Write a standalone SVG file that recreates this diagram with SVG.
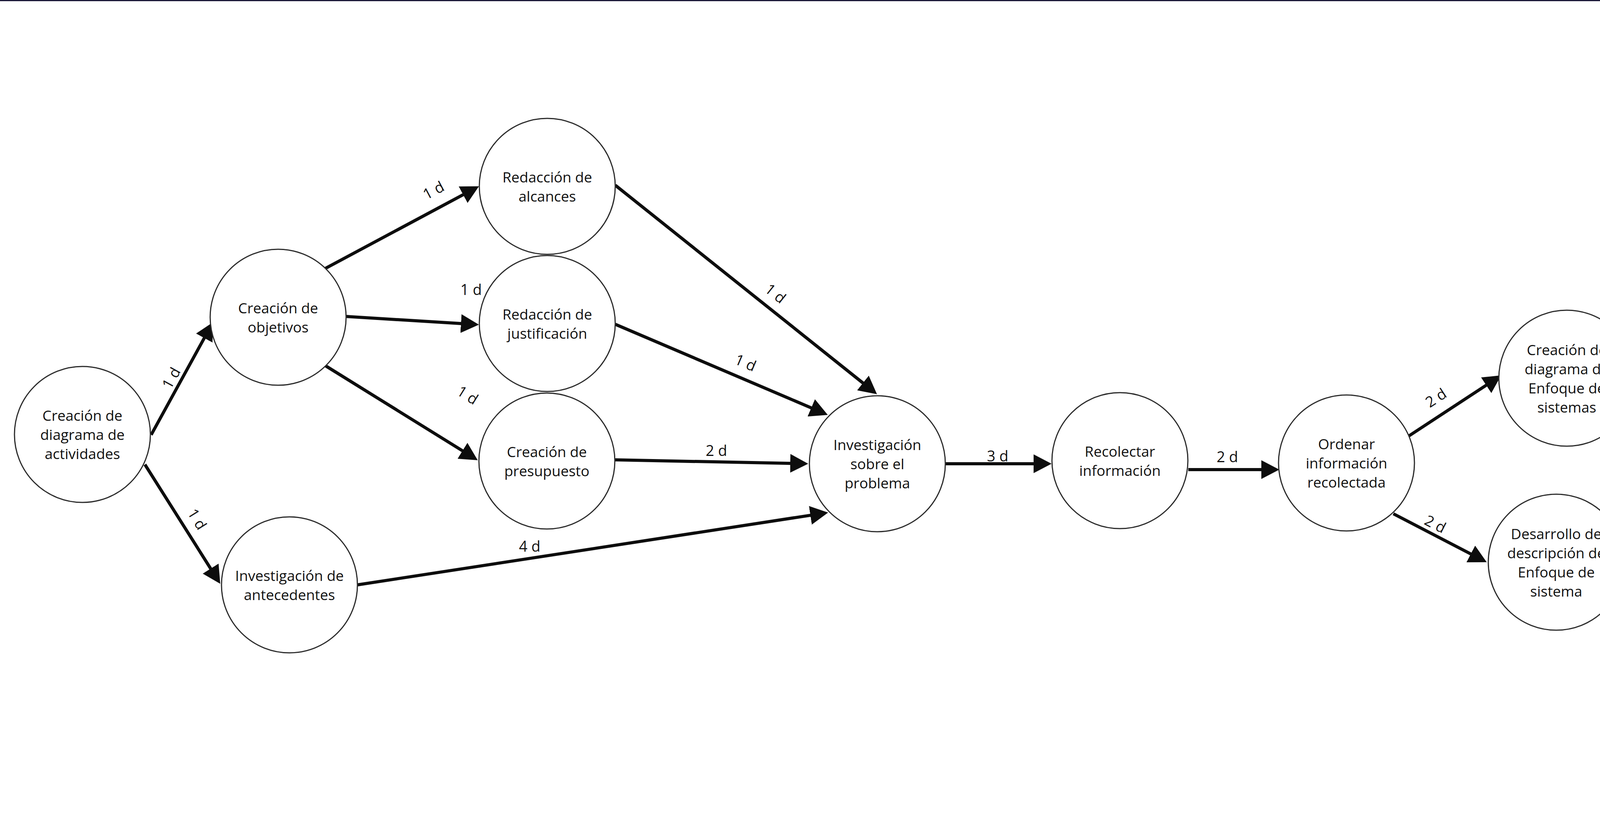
<svg xmlns="http://www.w3.org/2000/svg" width="7680" height="2104" viewBox="0 0 7680 2104">
<style>
.node circle{fill:#ffffff;stroke:#2b2b2b;stroke-width:3}
.node text{font-family:"Open Sans","DejaVu Sans",sans-serif;font-size:37px;fill:#111111;text-anchor:middle}
.edges line{stroke:#0d0d0d;stroke-width:8;marker-end:url(#arrow)}
.lbl{font-family:"Open Sans","DejaVu Sans",sans-serif;font-size:38px;fill:#111111;text-anchor:middle;dominant-baseline:central}
</style>
<defs>
<marker id="arrow" markerUnits="userSpaceOnUse" markerWidth="46" markerHeight="48" viewBox="0 0 46 48" refX="22" refY="24" orient="auto">
<path d="M0,0 L46,24 L0,48 z" fill="#0d0d0d"/>
</marker>
</defs>
<rect x="0" y="0" width="7680" height="2104" fill="#ffffff"/>
<rect x="0" y="0" width="7680" height="3" fill="#1b1838"/>
<rect x="7648" y="0" width="32" height="2104" fill="#1e2231"/>

<g id="connectors" class="edges">
<line x1="387" y1="1113" x2="533.5" y2="846"/>
<line x1="371" y1="1189" x2="551" y2="1474"/>
<line x1="833" y1="687" x2="1205" y2="488"/>
<line x1="886" y1="810" x2="1202" y2="829.5"/>
<line x1="833" y1="936" x2="1202.6" y2="1165.4"/>
<line x1="915" y1="1497" x2="2096.3" y2="1315.6"/>
<line x1="1575" y1="474" x2="2226.3" y2="994"/>
<line x1="1575" y1="830" x2="2097" y2="1052.6"/>
<line x1="1575" y1="1177" x2="2045" y2="1186.5"/>
<line x1="2420" y1="1187" x2="2668" y2="1187"/>
<line x1="3042" y1="1202" x2="3251" y2="1202"/>
<line x1="3605" y1="1117" x2="3823" y2="974"/>
<line x1="3567" y1="1315" x2="3784.7" y2="1428"/>
<line x1="4188" y1="967" x2="4341" y2="1086"/>
<line x1="4166" y1="1449" x2="4336" y2="1366.5"/>
<line x1="4662" y1="1231" x2="4850" y2="1231"/>
<line x1="5223" y1="1224" x2="5416" y2="1224"/>
<line x1="5787" y1="1229" x2="5977" y2="1229"/>
<line x1="6351" y1="1224" x2="6538" y2="1224"/>
<line x1="6737" y1="1390" x2="6737" y2="1581"/>
<line x1="6913" y1="1785" x2="7105" y2="1785"/>
<text class="lbl" transform="translate(437,967) rotate(-61)">1 d</text>
<text class="lbl" transform="translate(506,1328) rotate(58)">1 d</text>
<text class="lbl" transform="translate(1109,486) rotate(-28)">1 d</text>
<text class="lbl" x="1206" y="740">1 d</text>
<text class="lbl" transform="translate(1198,1010) rotate(32)">1 d</text>
<text class="lbl" x="1356" y="1397">4 d</text>
<text class="lbl" transform="translate(1986,750) rotate(38.6)">1 d</text>
<text class="lbl" transform="translate(1909,927) rotate(23)">1 d</text>
<text class="lbl" x="1834" y="1152">2 d</text>
<text class="lbl" x="2554" y="1166">3 d</text>
<text class="lbl" x="3142" y="1168">2 d</text>
<text class="lbl" transform="translate(3675,1017) rotate(-33)">2 d</text>
<text class="lbl" transform="translate(3675,1340) rotate(27)">2 d</text>
<text class="lbl" transform="translate(4277,977) rotate(38)">1 d</text>
<text class="lbl" transform="translate(4236,1376) rotate(-26)">1 d</text>
<text class="lbl" x="4757" y="1195">3 d</text>
<text class="lbl" x="5315" y="1195">0 d</text>
<text class="lbl" x="5877" y="1202">1 d</text>
<text class="lbl" x="6436" y="1196">1 d</text>
<text class="lbl" transform="translate(6764,1478) rotate(90)">1 d</text>
<text class="lbl" x="6995" y="1758">1 d</text>
</g>

<g id="n1" class="node"><circle cx="211" cy="1112" r="174"/><text x="211"><tspan x="211" y="1077">Creación de</tspan><tspan x="211" y="1126">diagrama de</tspan><tspan x="211" y="1175">actividades</tspan></text></g>
<g id="n2" class="node"><circle cx="712" cy="812" r="174"/><text x="712"><tspan x="712" y="801.5">Creación de</tspan><tspan x="712" y="850.5">objetivos</tspan></text></g>
<g id="n3" class="node"><circle cx="741" cy="1497" r="174"/><text x="741"><tspan x="741" y="1486.5">Investigación de</tspan><tspan x="741" y="1535.5">antecedentes</tspan></text></g>
<g id="n4" class="node"><circle cx="1401" cy="477" r="174"/><text x="1401"><tspan x="1401" y="466.5">Redacción de</tspan><tspan x="1401" y="515.5">alcances</tspan></text></g>
<g id="n5" class="node"><circle cx="1401" cy="828" r="174"/><text x="1401"><tspan x="1401" y="817.5">Redacción de</tspan><tspan x="1401" y="866.5">justificación</tspan></text></g>
<g id="n6" class="node"><circle cx="1400" cy="1180" r="174"/><text x="1400"><tspan x="1400" y="1169.5">Creación de</tspan><tspan x="1400" y="1218.5">presupuesto</tspan></text></g>
<g id="n7" class="node"><circle cx="2246" cy="1187" r="174"/><text x="2246"><tspan x="2246" y="1152">Investigación</tspan><tspan x="2246" y="1201">sobre el</tspan><tspan x="2246" y="1250">problema</tspan></text></g>
<g id="n8" class="node"><circle cx="2867" cy="1179" r="174"/><text x="2867"><tspan x="2867" y="1168.5">Recolectar</tspan><tspan x="2867" y="1217.5">información</tspan></text></g>
<g id="n9" class="node"><circle cx="3447" cy="1185" r="174"/><text x="3447"><tspan x="3447" y="1150">Ordenar</tspan><tspan x="3447" y="1199">información</tspan><tspan x="3447" y="1248">recolectada</tspan></text></g>
<g id="n10" class="node"><circle cx="4011" cy="968" r="174"/><text x="4011"><tspan x="4011" y="908.5">Creación de</tspan><tspan x="4011" y="957.5">diagrama de</tspan><tspan x="4011" y="1006.5">Enfoque de</tspan><tspan x="4011" y="1055.5">sistemas</tspan></text></g>
<g id="n11" class="node"><circle cx="3984" cy="1439" r="174"/><text x="3984"><tspan x="3984" y="1379.5">Desarrollo de</tspan><tspan x="3984" y="1428.5">descripción de</tspan><tspan x="3984" y="1477.5">Enfoque de</tspan><tspan x="3984" y="1526.5">sistema</tspan></text></g>
<g id="n12" class="node"><circle cx="4487" cy="1229" r="174"/><text x="4487"><tspan x="4487" y="1194">Documentación</tspan><tspan x="4487" y="1243">del proceso de</tspan><tspan x="4487" y="1292">análisis</tspan></text></g>
<g id="n13" class="node"><circle cx="5050" cy="1229" r="174"/><text x="5050"><tspan x="5050" y="1194">Documentación</tspan><tspan x="5050" y="1243">de la generación</tspan><tspan x="5050" y="1292">de alternativas</tspan></text></g>
<g id="n14" class="node"><circle cx="5612" cy="1229" r="174"/><text x="5612"><tspan x="5612" y="1194">Selección de</tspan><tspan x="5612" y="1243">alternativa más</tspan><tspan x="5612" y="1292">idónea</tspan></text></g>
<g id="n15" class="node"><circle cx="6175" cy="1221" r="174"/><text x="6175"><tspan x="6175" y="1137">Creación de</tspan><tspan x="6175" y="1186">diagrama de</tspan><tspan x="6175" y="1235">EDS con</tspan><tspan x="6175" y="1284">solución</tspan><tspan x="6175" y="1333">propuesta</tspan></text></g>
<g id="n16" class="node"><circle cx="6732" cy="1215" r="174"/><text x="6732"><tspan x="6732" y="1180">Desarrollo de la</tspan><tspan x="6732" y="1229">descripción del</tspan><tspan x="6732" y="1278">EDS</tspan></text></g>
<g id="n17" class="node"><circle cx="6732" cy="1777" r="174"/><text x="6732"><tspan x="6732" y="1766.5">Creación de</tspan><tspan x="6732" y="1815.5">conclusión</tspan></text></g>
<g id="n18" class="node"><circle cx="7306" cy="1777" r="174"/><text x="7306"><tspan x="7306" y="1766.5">Entrega de</tspan><tspan x="7306" y="1815.5">documento</tspan></text></g>
</svg>
